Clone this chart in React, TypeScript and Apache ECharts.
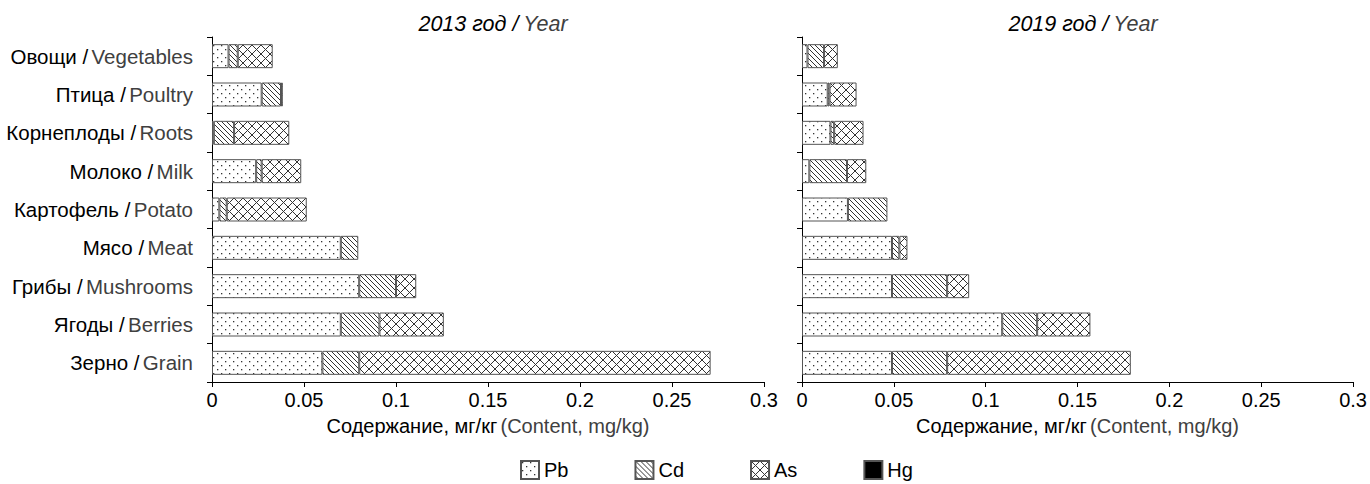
import React, { useEffect, useRef } from 'react';
import * as echarts from 'echarts';

const categoriesRu = ['Овощи', 'Птица', 'Корнеплоды', 'Молоко', 'Картофель', 'Мясо', 'Грибы', 'Ягоды', 'Зерно'];
const categoriesEn = ['Vegetables', 'Poultry', 'Roots', 'Milk', 'Potato', 'Meat', 'Mushrooms', 'Berries', 'Grain'];

const elements = ['Pb', 'Cd', 'As', 'Hg'];

const pb2013 = [0.009, 0.027, 0.001, 0.024, 0.004, 0.070, 0.080, 0.070, 0.060];
const cd2013 = [0.005, 0.0105, 0.011, 0.003, 0.004, 0.0095, 0.020, 0.021, 0.020];
const as2013 = [0.019, 0.001, 0.030, 0.0215, 0.0435, 0, 0.011, 0.035, 0.191];
const hg2013 = [0, 0, 0, 0, 0, 0, 0, 0, 0];

const pb2019 = [0.003, 0.014, 0.0155, 0.004, 0.025, 0.049, 0.049, 0.109, 0.049];
const cd2019 = [0.009, 0.001, 0.002, 0.0205, 0.0215, 0.004, 0.030, 0.019, 0.030];
const as2019 = [0.0075, 0.0147, 0.016, 0.0105, 0, 0.0044, 0.012, 0.029, 0.100];
const hg2019 = [0, 0, 0, 0, 0, 0, 0, 0, 0];

const years = ['2013', '2019'];
const xTicks = { min: 0, max: 0.3, interval: 0.05 };

function makeCanvas(size: number, draw: (ctx: CanvasRenderingContext2D) => void) {
  const c = document.createElement('canvas');
  c.width = size;
  c.height = size;
  const ctx = c.getContext('2d')!;
  ctx.fillStyle = '#ffffff';
  ctx.fillRect(0, 0, size, size);
  draw(ctx);
  return c;
}

function makePatterns() {
  const dots = makeCanvas(8, (ctx) => {
    ctx.fillStyle = '#333';
    ctx.fillRect(1, 1, 1.3, 1.3);
    ctx.fillRect(5, 5, 1.3, 1.3);
  });
  const hatch = makeCanvas(5, (ctx) => {
    ctx.strokeStyle = '#333';
    ctx.lineWidth = 1;
    ctx.beginPath();
    ctx.moveTo(-1, -1); ctx.lineTo(6, 6);
    ctx.moveTo(4, -1); ctx.lineTo(6, 1);
    ctx.moveTo(-1, 4); ctx.lineTo(1, 6);
    ctx.stroke();
  });
  const cross = makeCanvas(9, (ctx) => {
    ctx.strokeStyle = '#333';
    ctx.lineWidth = 1;
    ctx.beginPath();
    ctx.moveTo(-1, -1); ctx.lineTo(10, 10);
    ctx.moveTo(10, -1); ctx.lineTo(-1, 10);
    ctx.stroke();
  });
  return [
    { image: dots, repeat: 'repeat' },
    { image: hatch, repeat: 'repeat' },
    { image: cross, repeat: 'repeat' },
    '#000000',
  ];
}

const FONT = 'Liberation Sans, Arial, sans-serif';

export default function App() {
  const ref = useRef<HTMLDivElement>(null);
  useEffect(() => {
    if (!ref.current) return;
    const chart = echarts.init(ref.current, undefined, { renderer: 'svg' });
    const patterns = makePatterns();
    const dataByYear = [
      [pb2013, cd2013, as2013, hg2013],
      [pb2019, cd2019, as2019, hg2019],
    ];
    const labels = categoriesRu.map((r, i) => `{ru|${r} /} {en|${categoriesEn[i]}}`);
    const lefts = [212, 802];
    const gridW = 552;

    const series: any[] = [];
    dataByYear.forEach((sets, g) => {
      sets.forEach((vals, k) => {
        series.push({
          type: 'bar',
          name: elements[k],
          stack: 'y' + g,
          xAxisIndex: g,
          yAxisIndex: g,
          barWidth: 24,
          data: vals.map((v) => (v === 0 ? '-' : v)),
          itemStyle: {
            color: patterns[k],
            borderColor: '#555',
            borderWidth: 1,
          },
          emphasis: { disabled: true },
        });
      });
    });

    const option: any = {
      animation: false,
      textStyle: { fontFamily: FONT },
      title: years.map((y, g) => ({
        text: `{b|${y} год /} {g|Year}`,
        left: lefts[g] + gridW / 2,
        textAlign: 'center',
        top: 8,
        textStyle: {
          fontWeight: 'normal',
          rich: {
            b: { fontSize: 21.5, fontStyle: 'italic', fontWeight: 'normal', color: '#000', fontFamily: FONT },
            g: { fontSize: 21.5, fontStyle: 'italic', fontWeight: 'normal', color: '#404040', fontFamily: FONT },
          },
        },
      })),
      legend: {
        data: elements,
        top: 455,
        left: 515,
        itemWidth: 18,
        itemHeight: 18,
        itemGap: 66,
        icon: 'rect',
        textStyle: { fontSize: 20, color: '#000', fontFamily: FONT },
        selectedMode: false,
      },
      grid: lefts.map((l) => ({ left: l, top: 37, width: gridW, height: 345 })),
      xAxis: lefts.map((_, g) => ({
        type: 'value',
        gridIndex: g,
        min: xTicks.min,
        max: xTicks.max,
        interval: xTicks.interval,
        splitLine: { show: false },
        axisLine: { show: true, lineStyle: { color: '#000', width: 1 } },
        axisTick: { show: true, length: 5, lineStyle: { color: '#000' } },
        axisLabel: { fontSize: 20, color: '#000', margin: 8, fontFamily: FONT },
        name: '{ru|Содержание, мг/кг} {en|(Content, mg/kg)}',
        nameLocation: 'middle',
        nameGap: 34,
        nameTextStyle: {
          rich: {
            ru: { fontSize: 20, color: '#000', fontFamily: FONT },
            en: { fontSize: 20, color: '#404040', fontFamily: FONT },
          },
        },
      })),
      yAxis: lefts.map((_, g) => ({
        type: 'category',
        gridIndex: g,
        inverse: true,
        data: labels,
        axisLine: { show: true, lineStyle: { color: '#000', width: 1 } },
        axisTick: { show: true, length: 5, lineStyle: { color: '#000' } },
        axisLabel: {
          show: g === 0,
          margin: 19,
          rich: {
            ru: { fontSize: 20.5, color: '#000', fontFamily: FONT },
            en: { fontSize: 20.5, color: '#404040', fontFamily: FONT },
          },
        },
      })),
      series,
    };
    chart.setOption(option);
    return () => chart.dispose();
  }, []);
  return (
    <div
      ref={ref}
      style={{ position: 'fixed', left: 0, top: 0, width: 1370, height: 484, background: '#fff' }}
    />
  );
}
